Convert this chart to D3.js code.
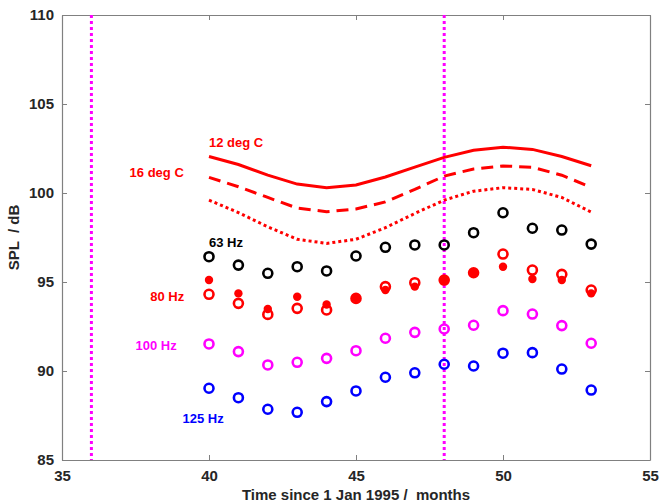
<!DOCTYPE html>
<html>
<head>
<meta charset="utf-8">
<script src="https://cdn.jsdelivr.net/npm/d3@7"></script>
<style>
  body { margin: 0; background: #fff; }
  text { font-family: "Liberation Sans", Arial, sans-serif; white-space: pre; }
</style>
</head>
<body>
<div id="chart"></div>
<script>
// months since 1 Jan 1995
var months = [40, 41, 42, 43, 44, 45, 46, 47, 48, 49, 50, 51, 52, 53];

// model curves
var curve12 = [102.05, 101.6, 101.0, 100.5, 100.3, 100.45, 100.9, 101.45, 102.0, 102.4, 102.57, 102.45, 102.05, 101.53];
var curve16 = [100.88, 100.35, 99.75, 99.15, 98.95, 99.1, 99.5, 100.2, 100.95, 101.35, 101.52, 101.45, 101.0, 100.32];
var curveDot = [99.6, 98.9, 98.1, 97.4, 97.17, 97.4, 98.05, 98.85, 99.6, 100.1, 100.3, 100.2, 99.75, 98.93];

// measured SPL per band
var hz63 = [96.42, 95.95, 95.49, 95.86, 95.62, 96.46, 96.95, 97.08, 97.08, 97.77, 98.89, 98.02, 97.92, 97.13];
var hz80 = [94.31, 93.8, 93.18, 93.52, 93.43, 94.08, 94.74, 94.96, 95.11, 95.52, 96.57, 95.67, 95.43, 94.55];
var hz80fill = [95.11, 94.36, 93.48, 94.17, 93.74, 94.1, 94.55, 94.74, 95.11, 95.52, 95.86, 95.17, 95.11, 94.36];
var hz100 = [91.52, 91.09, 90.34, 90.49, 90.71, 91.14, 91.84, 92.17, 92.36, 92.57, 93.39, 93.2, 92.55, 91.56];
var hz125 = [89.03, 88.5, 87.85, 87.68, 88.28, 88.88, 89.65, 89.9, 90.38, 90.28, 91.0, 91.03, 90.11, 88.93];

var vLines = [36, 48];
var xTicks = [35, 40, 45, 50, 55];
var yTicks = [85, 90, 95, 100, 105, 110];

var chart = {
  width: 660,
  height: 504,
  top: 15,
  right: 10,
  bottom: 44,
  left: 62,
};

const svg = d3
  .select("#chart")
  .append("svg")
  .attr("width", chart.width)
  .attr("height", chart.height);

var x = d3
  .scaleLinear()
  .domain([35, 55])
  .range([chart.left, chart.width - chart.right]);

var y = d3
  .scaleLinear()
  .domain([85, 110])
  .range([chart.height - chart.bottom, chart.top]);

var axisColor = "#808080";

/* frame + ticks */
function styleAxis(g, labels) {
  g.select(".domain").attr("stroke", axisColor).attr("stroke-width", 1.2);
  g.selectAll(".tick line").attr("stroke", axisColor);
  if (!labels) {
    g.selectAll(".tick text").remove();
    return;
  }
  g.selectAll(".tick text")
    .attr("fill", "#262626")
    .style("font-size", "15px")
    .style("font-weight", "bold");
}

svg.append("g")
  .attr("transform", `translate(0, ${y(85)})`)
  .call(d3.axisBottom(x).tickValues(xTicks).tickSize(-5).tickSizeOuter(0).tickPadding(10))
  .call((g) => styleAxis(g, true));

svg.append("g")
  .attr("transform", `translate(0, ${y(110)})`)
  .call(d3.axisTop(x).tickValues(xTicks).tickSize(-5).tickSizeOuter(0))
  .call((g) => styleAxis(g, false));

svg.append("g")
  .attr("transform", `translate(${x(35)}, 0)`)
  .call(d3.axisLeft(y).tickValues(yTicks).tickSize(-5).tickSizeOuter(0).tickPadding(8))
  .call((g) => styleAxis(g, true));

svg.append("g")
  .attr("transform", `translate(${x(55)}, 0)`)
  .call(d3.axisRight(y).tickValues(yTicks).tickSize(-5).tickSizeOuter(0))
  .call((g) => styleAxis(g, false));

/* vertical markers */
svg.selectAll(".vline")
  .data(vLines)
  .join("line")
  .attr("x1", (d) => x(d))
  .attr("x2", (d) => x(d))
  .attr("y1", y(110))
  .attr("y2", y(85))
  .attr("stroke", "#ff00ff")
  .attr("stroke-width", 3)
  .attr("stroke-dasharray", "3,3");

/* model curves */
function plotCurve(values, dash) {
  var line = d3
    .line()
    .x((d, i) => x(months[i]))
    .y((d) => y(d));

  svg.append("path")
    .datum(values)
    .attr("fill", "none")
    .attr("stroke", "#ff0000")
    .attr("stroke-width", 3)
    .attr("stroke-dasharray", dash)
    .attr("d", line);
}

plotCurve(curve12, null);
plotCurve(curve16, "12,7");
plotCurve(curveDot, "3,3");

/* measurements */
function plotCircles(values, color) {
  svg.append("g")
    .selectAll("circle")
    .data(values)
    .join("circle")
    .attr("cx", (d, i) => x(months[i]))
    .attr("cy", (d) => y(d))
    .attr("r", 4.5)
    .attr("fill", "none")
    .attr("stroke", color)
    .attr("stroke-width", 2.6);
}

svg.append("g")
  .attr("fill", "#ff0000")
  .selectAll("circle")
  .data(hz80fill)
  .join("circle")
  .attr("cx", (d, i) => x(months[i]))
  .attr("cy", (d) => y(d))
  .attr("r", 4.2);

plotCircles(hz63, "#000000");
plotCircles(hz80, "#ff0000");
plotCircles(hz100, "#ff00ff");
plotCircles(hz125, "#0000ff");

/* annotations */
var notes = [
  { t: "12 deg C", x: 40, y: 102.6, c: "#ff0000" },
  { t: "16 deg C", x: 37.3, y: 100.9, c: "#ff0000" },
  { t: "63 Hz", x: 40, y: 96.95, c: "#000000" },
  { t: "80 Hz", x: 38.0, y: 93.95, c: "#ff0000" },
  { t: "100 Hz", x: 37.5, y: 91.2, c: "#ff00ff" },
  { t: "125 Hz", x: 39.1, y: 87.1, c: "#0000ff" },
];

svg.append("g")
  .selectAll("text")
  .data(notes)
  .join("text")
  .attr("x", (d) => x(d.x))
  .attr("y", (d) => y(d.y))
  .attr("fill", (d) => d.c)
  .style("font-size", "13px")
  .style("font-weight", "bold")
  .text((d) => d.t);

/* axis titles */
svg.append("text")
  .attr("x", (chart.left + chart.width - chart.right) / 2)
  .attr("y", chart.height - 4)
  .attr("text-anchor", "middle")
  .attr("fill", "#262626")
  .style("font-size", "15px")
  .style("font-weight", "bold")
  .text("Time since 1 Jan 1995 /  months");

svg.append("text")
  .attr("transform", `translate(19, ${(chart.top + chart.height - chart.bottom) / 2}) rotate(-90)`)
  .attr("text-anchor", "middle")
  .attr("fill", "#262626")
  .style("font-size", "15px")
  .style("font-weight", "bold")
  .text("SPL  / dB");
</script>
</body>
</html>
